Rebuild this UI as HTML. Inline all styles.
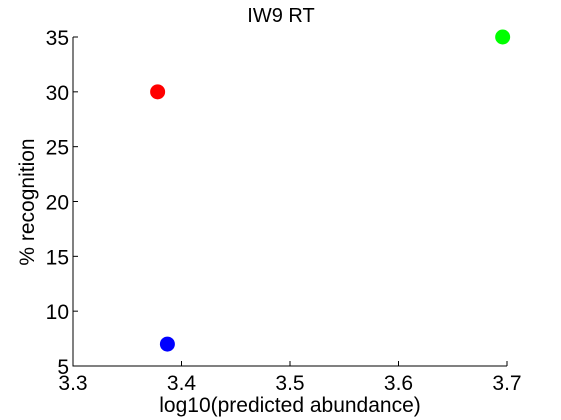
<!DOCTYPE html>
<html><head><meta charset="utf-8"><style>body{margin:0;background:#fff}svg{display:block}text{font-family:"Liberation Sans",sans-serif;fill:#000}</style></head>
<body>
<svg width="561" height="420" id="c"></svg>
<script>
const xTicks=[3.3,3.4,3.5,3.6,3.7];
const yTicks=[5,10,15,20,25,30,35];
const xs=[3.378,3.387,3.696];
const ys=[30,7,35];
const colors=['#ff0000','#0000ff','#00ff00'];
const NS='http://www.w3.org/2000/svg';
const svg=document.getElementById('c');
const X0=73,X1=507,Y0=366,Y1=37;
const sx=v=>X0+(v-3.3)/0.4*(X1-X0);
const sy=v=>Y0-(v-5)/30*(Y0-Y1);
function mk(t,a,p){const e=document.createElementNS(NS,t);for(const k in a)e.setAttribute(k,a[k]);(p||svg).appendChild(e);return e;}
const ax=mk('path',{d:`M${X0},${Y1}V${Y0}H${X1}`,stroke:'#000',fill:'none','stroke-width':1});


xTicks.forEach(v=>{const x=sx(v);
const l=mk('line',{x1:x,x2:x,y1:Y0,y2:Y0-5,stroke:'#000'});


const t=mk('text',{x:x,y:Y0+24,'text-anchor':'middle','font-size':21});t.textContent=v.toFixed(1);

});
yTicks.forEach(v=>{const y=sy(v);
const l=mk('line',{x1:X0,x2:X0+5,y1:y,y2:y,stroke:'#000'});


const t=mk('text',{x:X0-4,y:y+8,'text-anchor':'end','font-size':21});t.textContent=v;

});
xs.forEach((v,i)=>{const c=mk('circle',{cx:sx(v),cy:sy(ys[i]),r:7.5,fill:colors[i]});

});
const tt=mk('text',{x:281,y:22,'text-anchor':'middle','font-size':20});tt.textContent='IW9 RT';


const xl=mk('text',{x:290,y:412,'text-anchor':'middle','font-size':21});xl.textContent='log10(predicted abundance)';


const yl=mk('text',{x:0,y:0,'text-anchor':'middle','font-size':21,transform:'translate(34,202) rotate(-90)'});yl.textContent='% recognition';


</script>
</body></html>
